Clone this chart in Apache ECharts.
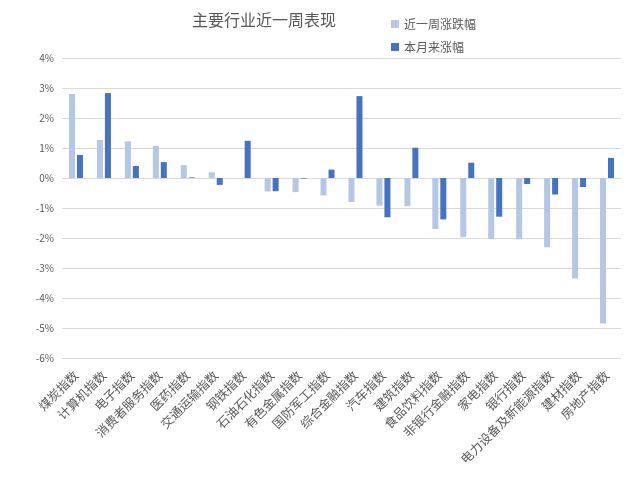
<!DOCTYPE html>
<html><head><meta charset="utf-8">
<script src="https://cdn.jsdelivr.net/npm/echarts@6/dist/echarts.min.js"></script>
<style>html,body{margin:0;padding:0;background:#fff}#c{width:636px;height:500px}</style>
</head><body><div id="c"></div>
<script>
const categories = ['煤炭指数','计算机指数','电子指数','消费者服务指数','医药指数','交通运输指数','钢铁指数','石油石化指数','有色金属指数','国防军工指数','综合金融指数','汽车指数','建筑指数','食品饮料指数','非银行金融指数','家电指数','银行指数','电力设备及新能源指数','建材指数','房地产指数'];
const weekChange = [2.80, 1.27, 1.22, 1.07, 0.43, 0.19, 0.00, -0.45, -0.47, -0.58, -0.80, -0.92, -0.94, -1.70, -1.97, -2.03, -2.04, -2.31, -3.35, -4.85];
const monthChange = [0.77, 2.83, 0.40, 0.53, 0.02, -0.23, 1.24, -0.44, -0.02, 0.28, 2.73, -1.31, 1.01, -1.38, 0.51, -1.29, -0.20, -0.55, -0.30, 0.67];
const seriesNames = ['近一周涨跌幅','本月来涨幅'];
const chart = echarts.init(document.getElementById('c'), null, {renderer:'canvas'});
const font = '"Noto Sans CJK SC", "Noto Sans", sans-serif';
chart.setOption({
  animation:false,
  textStyle:{fontFamily:font},
  title:{text:'主要行业近一周表现', left:259, top:7, textAlign:'center',
    textStyle:{fontSize:16, fontWeight:'normal', color:'#595959', fontFamily:font}},
  legend:{orient:'vertical', left:386, top:13, itemWidth:8, itemHeight:8, itemGap:11, icon:'rect',
    textStyle:{fontSize:12, color:'#595959', fontFamily:font}, data:seriesNames},
  grid:{left:62, right:15, top:58, bottom:142},
  xAxis:{type:'category', data:categories,
    axisLine:{show:false, onZero:false}, axisTick:{show:false},
    axisLabel:{interval:0, rotate:45, fontSize:12.5, color:'#595959', margin:15, fontFamily:font}},
  yAxis:{type:'value', min:-6, max:4, interval:1,
    axisLabel:{formatter:v=>v+'%', fontSize:10, color:'#595959', margin:8},
    splitLine:{lineStyle:{color:'#D9D9D9', width:1}}, axisLine:{show:false}, axisTick:{show:false}},
  series:[
    {name:seriesNames[0], type:'bar', data:weekChange, barWidth:6, barGap:'33%', itemStyle:{color:'#B4C7E7'}},
    {name:seriesNames[1], type:'bar', data:monthChange, barWidth:6, itemStyle:{color:'#4472C4'}}
  ]
});
</script></body></html>
